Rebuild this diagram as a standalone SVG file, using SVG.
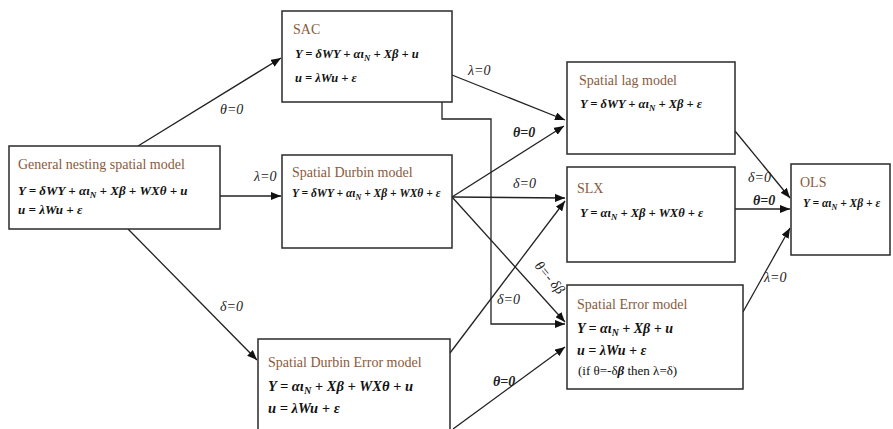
<svg xmlns="http://www.w3.org/2000/svg" width="893" height="429" viewBox="0 0 893 429">
<defs>
<marker id="ah" markerUnits="userSpaceOnUse" markerWidth="11" markerHeight="8" refX="10" refY="4" orient="auto">
<path d="M0,0 L10,4 L0,8 z" fill="#111"/>
</marker>
<style>
.box{fill:#fff;stroke:#2a2a2a;stroke-width:1.5}
.ttl{font-family:"Liberation Serif",serif;font-size:14px;fill:#8a5a3c}
.eq{font-family:"Liberation Serif",serif;font-weight:bold;font-style:italic;fill:#111}
.sub{font-size:70%}
.lbl{font-family:"Liberation Serif",serif;font-style:italic;font-size:14px;fill:#222}
.lblb{font-family:"Liberation Serif",serif;font-style:italic;font-weight:bold;font-size:14px;fill:#222}
.c{fill:none;stroke:#222;stroke-width:1.3}
</style>
</defs>
<rect width="893" height="429" fill="#fff"/>

<g id="connectors">
<line class="c" x1="138" y1="146" x2="281" y2="58" marker-end="url(#ah)"/>
<line class="c" x1="220" y1="196" x2="281" y2="196" marker-end="url(#ah)"/>
<line class="c" x1="128" y1="229" x2="257" y2="360" marker-end="url(#ah)"/>
<line class="c" x1="452" y1="75" x2="565" y2="120" marker-end="url(#ah)"/>
<polyline class="c" points="442,102 442,119 491,119 491,324 565,324" marker-end="url(#ah)"/>
<line class="c" x1="452" y1="197" x2="564" y2="126" marker-end="url(#ah)"/>
<line class="c" x1="452" y1="197" x2="565" y2="198" marker-end="url(#ah)"/>
<line class="c" x1="452" y1="197" x2="565" y2="322" marker-end="url(#ah)"/>
<line class="c" x1="450" y1="353" x2="565" y2="201" marker-end="url(#ah)"/>
<line class="c" x1="453" y1="429" x2="565" y2="347" marker-end="url(#ah)"/>
<line class="c" x1="735" y1="131" x2="790" y2="198" marker-end="url(#ah)"/>
<line class="c" x1="735" y1="209" x2="790" y2="209" marker-end="url(#ah)"/>
<line class="c" x1="743" y1="312" x2="790" y2="228" marker-end="url(#ah)"/>
<text class="lbl" x="220" y="114">θ=0</text>
<text class="lbl" x="254" y="181">λ=0</text>
<text class="lbl" x="220" y="311">δ=0</text>
<text class="lbl" x="468" y="75">λ=0</text>
<text class="lblb" x="513" y="137">θ=0</text>
<text class="lbl" x="513" y="188">δ=0</text>
<text class="lbl" transform="translate(534,266) rotate(50)">θ=- δβ</text>
<text class="lbl" x="497" y="304">δ=0</text>
<text class="lblb" x="493" y="386">θ=0</text>
<text class="lbl" x="748" y="182">δ=0</text>
<text class="lblb" x="753" y="205">θ=0</text>
<text class="lbl" x="764" y="282">λ=0</text>
</g>

<g id="gns">
<rect class="box" x="9" y="146" width="211" height="83"/>
<text class="ttl" x="18" y="169">General nesting spatial model</text>
<text class="eq" x="18" y="195" font-size="13">Y = δWY + αι<tspan class="sub" dy="3">N</tspan><tspan dy="-3"> + Xβ + WXθ + u</tspan></text>
<text class="eq" x="18" y="214" font-size="13">u = λWu + ε</text>
</g>

<g id="sac">
<rect class="box" x="282" y="11" width="170" height="91"/>
<text class="ttl" x="293" y="34">SAC</text>
<text class="eq" x="295" y="58" font-size="12.5">Y = δWY + αι<tspan class="sub" dy="3">N</tspan><tspan dy="-3"> + Xβ + u</tspan></text>
<text class="eq" x="295" y="82" font-size="12.5">u = λWu + ε</text>
</g>

<g id="sdm">
<rect class="box" x="282" y="155" width="170" height="93"/>
<text class="ttl" x="292" y="177">Spatial Durbin model</text>
<text class="eq" x="292" y="197" font-size="11.5">Y = δWY + αι<tspan class="sub" dy="3">N</tspan><tspan dy="-3"> + Xβ + WXθ + ε</tspan></text>
</g>

<g id="sdem">
<rect class="box" x="258" y="339" width="192" height="100"/>
<text class="ttl" x="268" y="367">Spatial Durbin Error model</text>
<text class="eq" x="268" y="391" font-size="14.5">Y = αι<tspan class="sub" dy="3">N</tspan><tspan dy="-3"> + Xβ + WXθ + u</tspan></text>
<text class="eq" x="268" y="413" font-size="14.5">u = λWu + ε</text>
</g>

<g id="lag">
<rect class="box" x="567" y="62" width="168" height="92"/>
<text class="ttl" x="579" y="85">Spatial lag model</text>
<text class="eq" x="580" y="108" font-size="12.5">Y = δWY + αι<tspan class="sub" dy="3">N</tspan><tspan dy="-3"> + Xβ + ε</tspan></text>
</g>

<g id="slx">
<rect class="box" x="567" y="167" width="168" height="95"/>
<text class="ttl" x="577" y="193">SLX</text>
<text class="eq" x="580" y="217" font-size="12.5">Y = αι<tspan class="sub" dy="3">N</tspan><tspan dy="-3"> + Xβ + WXθ + ε</tspan></text>
</g>

<g id="sem">
<rect class="box" x="567" y="285" width="176" height="104"/>
<text class="ttl" x="577" y="309">Spatial Error model</text>
<text class="eq" x="577" y="333" font-size="14">Y = αι<tspan class="sub" dy="3">N</tspan><tspan dy="-3"> + Xβ + u</tspan></text>
<text class="eq" x="577" y="355" font-size="14">u = λWu + ε</text>
<text x="578" y="375" font-family="Liberation Serif, serif" font-size="13" fill="#111">(if θ=-δ<tspan font-weight="bold" font-style="italic">β</tspan> then λ=δ)</text>
</g>

<g id="ols">
<rect class="box" x="791" y="164" width="99" height="91"/>
<text class="ttl" x="800" y="187">OLS</text>
<text class="eq" x="803" y="207" font-size="11.5">Y = αι<tspan class="sub" dy="3">N</tspan><tspan dy="-3"> + Xβ + ε</tspan></text>
</g>
</svg>
